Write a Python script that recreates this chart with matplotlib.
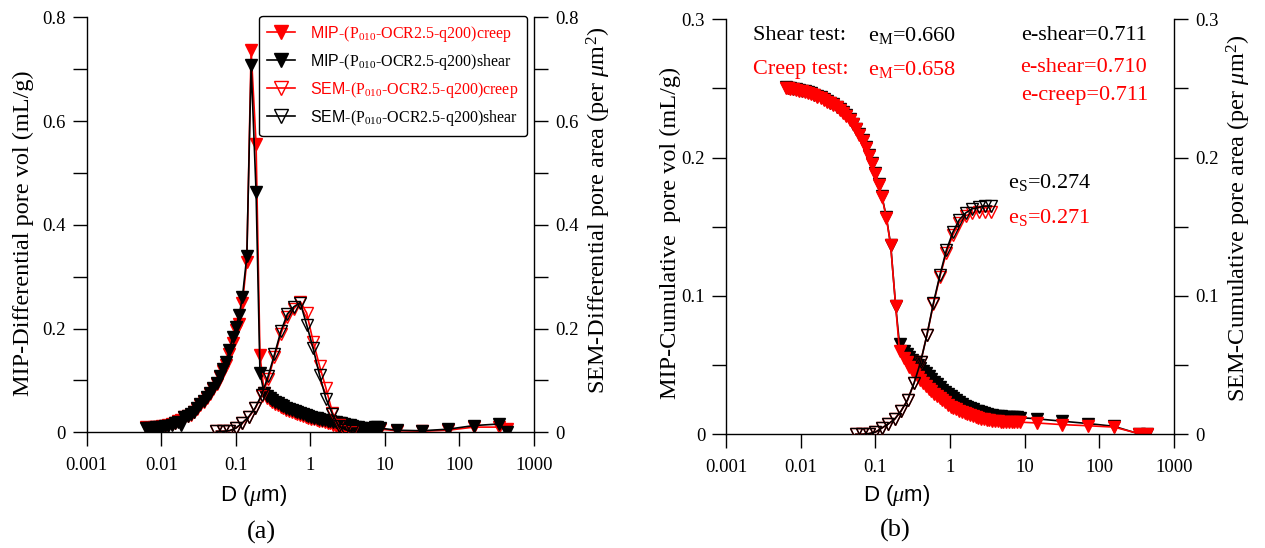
import matplotlib
matplotlib.use("Agg")
import matplotlib.pyplot as plt
from matplotlib.lines import Line2D

plt.rcParams['font.family'] = ['Liberation Serif', 'DejaVu Serif']
plt.rcParams['mathtext.fontset'] = 'custom'
plt.rcParams['mathtext.rm'] = 'Liberation Serif'
plt.rcParams['mathtext.it'] = 'Liberation Serif:italic'
plt.rcParams['mathtext.sf'] = 'Liberation Sans'

# ---------------- data ----------------
# MIP pore diameters (um)
D_mip = [0.0063, 0.0068, 0.0073, 0.0079, 0.0086, 0.0094, 0.0103, 0.0113, 0.0125, 0.0138,
         0.0152, 0.0168, 0.0185, 0.0204, 0.0225, 0.0248, 0.0274, 0.0303, 0.0335, 0.037,
         0.041, 0.0453, 0.05, 0.0553, 0.061, 0.0675, 0.0745, 0.0823, 0.091, 0.1005,
         0.111, 0.1227, 0.1405, 0.1605, 0.187, 0.211, 0.241, 0.262, 0.285, 0.31,
         0.338, 0.368, 0.40, 0.436, 0.475, 0.517, 0.563, 0.613, 0.668, 0.727,
         0.792, 0.862, 0.939, 1.02, 1.11, 1.21, 1.32, 1.44, 1.57, 1.71,
         1.86, 2.02, 2.2, 2.4, 2.61, 2.85, 3.1, 3.37, 3.67, 4.0,
         4.36, 4.75, 5.17, 5.63, 6.13, 6.68, 7.27, 7.92, 8.6, 14.5,
         31.5, 70, 157, 340, 430]

# (a) MIP differential pore volume (mL/g)
mip_diff_shear = [0.009, 0.008, 0.008, 0.009, 0.010, 0.010, 0.011, 0.012, 0.013, 0.015,
                  0.017, 0.020, 0.014, 0.030, 0.032, 0.035, 0.040, 0.047, 0.054, 0.061,
                  0.068, 0.076, 0.085, 0.096, 0.109, 0.122, 0.136, 0.159, 0.184, 0.203,
                  0.226, 0.261, 0.339, 0.708, 0.464, 0.114, 0.075, 0.070, 0.066, 0.063,
                  0.059, 0.056, 0.053, 0.050, 0.047, 0.045, 0.043, 0.041, 0.039, 0.037,
                  0.035, 0.033, 0.031, 0.030, 0.028, 0.027, 0.025, 0.024, 0.023, 0.022,
                  0.021, 0.020, 0.019, 0.018, 0.017, 0.016, 0.015, 0.014, 0.013, 0.011,
                  0.010, 0.009, 0.008, 0.007, 0.006, 0.005, 0.011, 0.010, 0.008, 0.004,
                  0.003, 0.006, 0.013, 0.016, 0.001]
mip_diff_creep = [0.010, 0.009, 0.009, 0.010, 0.010, 0.011, 0.012, 0.013, 0.014, 0.016,
                  0.018, 0.021, 0.024, 0.029, 0.031, 0.034, 0.039, 0.045, 0.052, 0.059,
                  0.066, 0.074, 0.083, 0.094, 0.106, 0.119, 0.130, 0.150, 0.172, 0.197,
                  0.208, 0.249, 0.329, 0.737, 0.556, 0.149, 0.075, 0.066, 0.062, 0.058,
                  0.055, 0.052, 0.049, 0.046, 0.043, 0.041, 0.039, 0.037, 0.035, 0.033,
                  0.031, 0.029, 0.028, 0.026, 0.025, 0.023, 0.022, 0.021, 0.020, 0.018,
                  0.017, 0.015, 0.012, 0.010, 0.008, 0.006, 0.005, 0.006, 0.007, 0.006,
                  0.005, 0.005, 0.004, 0.004, 0.003, 0.003, 0.008, 0.007, 0.006, 0.003,
                  0.002, 0.004, 0.010, 0.010, 0.006]

# (b) MIP cumulative pore volume (mL/g)
mip_cum_shear = [0.2510, 0.2505, 0.2502, 0.2499, 0.2495, 0.2490, 0.2485, 0.2480, 0.2472, 0.2465,
                 0.2455, 0.2445, 0.2435, 0.2425, 0.2410, 0.2398, 0.2385, 0.2368, 0.2350, 0.2330,
                 0.2305, 0.2280, 0.2245, 0.2210, 0.2170, 0.2125, 0.2075, 0.2020, 0.1960, 0.1890,
                 0.1810, 0.1720, 0.1570, 0.1370, 0.0930, 0.0650, 0.0600, 0.0580, 0.0560, 0.0540,
                 0.0520, 0.0500, 0.0480, 0.0460, 0.0440, 0.0420, 0.0400, 0.0380, 0.0360, 0.0340,
                 0.0322, 0.0305, 0.0290, 0.0275, 0.0260, 0.0245, 0.0230, 0.0218, 0.0207, 0.0197,
                 0.0188, 0.0180, 0.0172, 0.0165, 0.0158, 0.0152, 0.0146, 0.0141, 0.0137, 0.0134,
                 0.0131, 0.0129, 0.0127, 0.0126, 0.0125, 0.0124, 0.0123, 0.0122, 0.0121, 0.0112,
                 0.0095, 0.0078, 0.0058, 0.0003, 0.0]
mip_cum_creep = [0.2505, 0.2500, 0.2497, 0.2494, 0.2490, 0.2485, 0.2480, 0.2475, 0.2467, 0.2460,
                 0.2450, 0.2440, 0.2430, 0.2420, 0.2405, 0.2393, 0.2380, 0.2363, 0.2345, 0.2325,
                 0.2300, 0.2275, 0.2240, 0.2205, 0.2165, 0.2120, 0.2070, 0.2015, 0.1955, 0.1885,
                 0.1805, 0.1715, 0.1565, 0.1365, 0.0930, 0.0600, 0.0550, 0.0520, 0.0490, 0.0465,
                 0.0440, 0.0415, 0.0390, 0.0370, 0.0350, 0.0330, 0.0310, 0.0290, 0.0275, 0.0260,
                 0.0245, 0.0230, 0.0215, 0.0200, 0.0190, 0.0180, 0.0170, 0.0160, 0.0152, 0.0144,
                 0.0137, 0.0130, 0.0124, 0.0118, 0.0113, 0.0108, 0.0104, 0.0100, 0.0097, 0.0095,
                 0.0093, 0.0092, 0.0091, 0.0090, 0.0090, 0.0089, 0.0089, 0.0088, 0.0088, 0.0082,
                 0.0070, 0.0062, 0.0052, 0.0005, 0.0]

# SEM pore diameters (um)
D_sem = [0.055, 0.067, 0.082, 0.1, 0.122, 0.149, 0.182, 0.222, 0.271, 0.33, 0.403,
         0.492, 0.6, 0.732, 0.893, 1.09, 1.33, 1.62, 1.98, 2.41, 2.94, 3.59]

# (a) SEM differential pore area (per um^2)
sem_diff_creep = [0.002, 0.002, 0.003, 0.008, 0.017, 0.029, 0.046, 0.070, 0.102, 0.146, 0.190,
                  0.222, 0.238, 0.252, 0.230, 0.175, 0.128, 0.085, 0.038, 0.014, 0.002, 0.0]
sem_diff_shear = [0.002, 0.002, 0.003, 0.008, 0.018, 0.030, 0.047, 0.072, 0.108, 0.150, 0.195,
                  0.228, 0.242, 0.250, 0.207, 0.162, 0.110, 0.065, 0.035, 0.012, 0.005, 0.002]

# (b) SEM cumulative pore area (per um^2)
sem_cum_creep = [0.0, 0.0, 0.0005, 0.0015, 0.0045, 0.0075, 0.011, 0.017, 0.025, 0.037, 0.052,
                 0.072, 0.094, 0.114, 0.131, 0.144, 0.153, 0.158, 0.160, 0.161, 0.161, 0.161]
sem_cum_shear = [0.0, 0.0, 0.0005, 0.0015, 0.0045, 0.0075, 0.011, 0.017, 0.025, 0.037, 0.052,
                 0.072, 0.095, 0.115, 0.133, 0.146, 0.155, 0.160, 0.163, 0.164, 0.165, 0.165]

xticks = [0.001, 0.01, 0.1, 1, 10, 100, 1000]
xticklabels = ['0.001', '0.01', '0.1', '1', '10', '100', '1000']
yticks_a = [0, 0.2, 0.4, 0.6, 0.8]
yticklabels_a = ['0', '0.2', '0.4', '0.6', '0.8']
yticks_b = [0, 0.1, 0.2, 0.3]
yticklabels_b = ['0', '0.1', '0.2', '0.3']

legend_labels = [r'$\mathsf{MIP}$-(P$_{010}$-OCR2.5-q200)creep',
                 r'$\mathsf{MIP}$-(P$_{010}$-OCR2.5-q200)shear',
                 r'$\mathsf{SEM}$-(P$_{010}$-OCR2.5-q200)creep',
                 r'$\mathsf{SEM}$-(P$_{010}$-OCR2.5-q200)shear']

RED = '#ff0000'
BLK = '#000000'
W, H = 1265, 548
fig = plt.figure(figsize=(W / 100, H / 100), dpi=100)

TICKFS = 13.5
LABFS = 17.5


def style_axes(ax, axr, yticks, ylabels, minor_step, ymax):
    for a in (ax, axr):
        a.set_xscale('log')
        a.set_xlim(0.001, 1000)
        a.set_ylim(0, ymax)
        a.spines['top'].set_visible(False)
        for s in a.spines.values():
            s.set_linewidth(1.0)
    ax.spines['right'].set_visible(False)
    axr.spines['left'].set_visible(False)
    axr.spines['bottom'].set_visible(False)
    ax.set_xticks(xticks)
    ax.set_xticklabels(xticklabels)
    ax.xaxis.set_minor_locator(matplotlib.ticker.NullLocator())
    axr.xaxis.set_minor_locator(matplotlib.ticker.NullLocator())
    minors = [i * minor_step for i in range(int(round(ymax / minor_step)) + 1)]
    for a in (ax, axr):
        a.set_yticks(yticks)
        a.set_yticklabels(ylabels)
        a.set_yticks(minors, minor=True)
        a.tick_params(axis='y', which='both', direction='out', length=10, width=1.0,
                      labelsize=TICKFS, pad=5)
    ax.tick_params(axis='x', which='major', direction='out', length=10, width=1.0,
                   labelsize=TICKFS, pad=8)


# ---------------- panel (a) ----------------
axA = fig.add_axes([86.7 / W, 1 - 432.3 / H, 447.3 / W, 415 / H])
axAr = axA.twinx()
mk = 8
axA.plot(D_mip, mip_diff_creep, color=RED, lw=1.2, marker='v', ms=mk, mfc=RED, mec=RED)
axA.plot(D_mip, mip_diff_shear, color=BLK, lw=1.2, marker='v', ms=mk, mfc=BLK, mec=BLK)
axAr.plot(D_sem, sem_diff_creep, color=RED, lw=1.2, marker='v', ms=mk, mfc='none', mec=RED)
axAr.plot(D_sem, sem_diff_shear, color=BLK, lw=1.2, marker='v', ms=mk, mfc='none', mec=BLK)
style_axes(axA, axAr, yticks_a, yticklabels_a, 0.1, 0.8)

handles = [Line2D([], [], color=RED, lw=1.2, marker='v', ms=10, mfc=RED, mec=RED),
           Line2D([], [], color=BLK, lw=1.2, marker='v', ms=10, mfc=BLK, mec=BLK),
           Line2D([], [], color=RED, lw=1.2, marker='v', ms=10, mfc='none', mec=RED),
           Line2D([], [], color=BLK, lw=1.2, marker='v', ms=10, mfc='none', mec=BLK)]
leg = axAr.legend(handles, legend_labels, loc='upper right', bbox_to_anchor=(0.984, 1.003),
                  borderaxespad=0, fontsize=11.5, handlelength=1.7, handletextpad=1.0,
                  labelspacing=0.5, frameon=True, fancybox=True, edgecolor='black',
                  framealpha=1, borderpad=0.5)
leg.get_frame().set_linewidth(1.0)
for t, c in zip(leg.get_texts(), [RED, BLK, RED, BLK]):
    t.set_color(c)

# ---------------- panel (b) ----------------
axB = fig.add_axes([726 / W, 1 - 434.3 / H, 448 / W, 415 / H])
axBr = axB.twinx()
axB.plot(D_mip, mip_cum_shear, color=BLK, lw=1.2, marker='v', ms=mk, mfc=BLK, mec=BLK)
axB.plot(D_mip, mip_cum_creep, color=RED, lw=1.2, marker='v', ms=mk, mfc=RED, mec=RED)
axBr.plot(D_sem, sem_cum_creep, color=RED, lw=1.2, marker='v', ms=mk, mfc='none', mec=RED)
axBr.plot(D_sem, sem_cum_shear, color=BLK, lw=1.2, marker='v', ms=mk, mfc='none', mec=BLK)
style_axes(axB, axBr, yticks_b, yticklabels_b, 0.05, 0.3)

TXTFS = 16
tb = axB.transAxes
axB.text(0.06, 0.962, 'Shear test:', transform=tb, fontsize=TXTFS, color=BLK, va='center')
axB.text(0.317, 0.962, r'e$_{\rm M}$=0.660', transform=tb, fontsize=TXTFS, color=BLK, va='center')
axB.text(0.94, 0.962, 'e-shear=0.711', transform=tb, fontsize=TXTFS, color=BLK, va='center', ha='right')
axB.text(0.06, 0.878, 'Creep test:', transform=tb, fontsize=TXTFS, color=RED, va='center')
axB.text(0.317, 0.878, r'e$_{\rm M}$=0.658', transform=tb, fontsize=TXTFS, color=RED, va='center')
axB.text(0.94, 0.883, 'e-shear=0.710', transform=tb, fontsize=TXTFS, color=RED, va='center', ha='right')
axB.text(0.942, 0.817, 'e-creep=0.711', transform=tb, fontsize=TXTFS, color=RED, va='center', ha='right')
axB.text(0.629, 0.606, r'e$_{\rm S}$=0.274', transform=tb, fontsize=TXTFS, color=BLK, va='center')
axB.text(0.629, 0.522, r'e$_{\rm S}$=0.271', transform=tb, fontsize=TXTFS, color=RED, va='center')

# ---------------- labels ----------------
def ftext(x, y, s, **kw):
    fig.text(x / W, 1 - y / H, s, **kw)

ftext(23, 233, 'MIP-Differential pore vol (mL/g)', rotation=90, ha='center', va='center', fontsize=LABFS)
ftext(599, 210, r'SEM-Differential pore area (per $\mu$m$^2$)', rotation=90, ha='center', va='center', fontsize=LABFS)
ftext(670, 233, 'MIP-Cumulative  pore vol (mL/g)', rotation=90, ha='center', va='center', fontsize=LABFS)
ftext(1239, 218, r'SEM-Cumulative pore area (per $\mu$m$^2$)', rotation=90, ha='center', va='center', fontsize=LABFS)

ftext(254, 495, r'D ($\mu$m)', ha='center', va='center', fontsize=16,
      family=['Liberation Sans', 'DejaVu Sans'])
ftext(897, 495, r'D ($\mu$m)', ha='center', va='center', fontsize=16,
      family=['Liberation Sans', 'DejaVu Sans'])
ftext(261, 532, '(a)', ha='center', va='center', fontsize=19)
ftext(895, 530, '(b)', ha='center', va='center', fontsize=19)

fig.savefig('out.png', dpi=100)
